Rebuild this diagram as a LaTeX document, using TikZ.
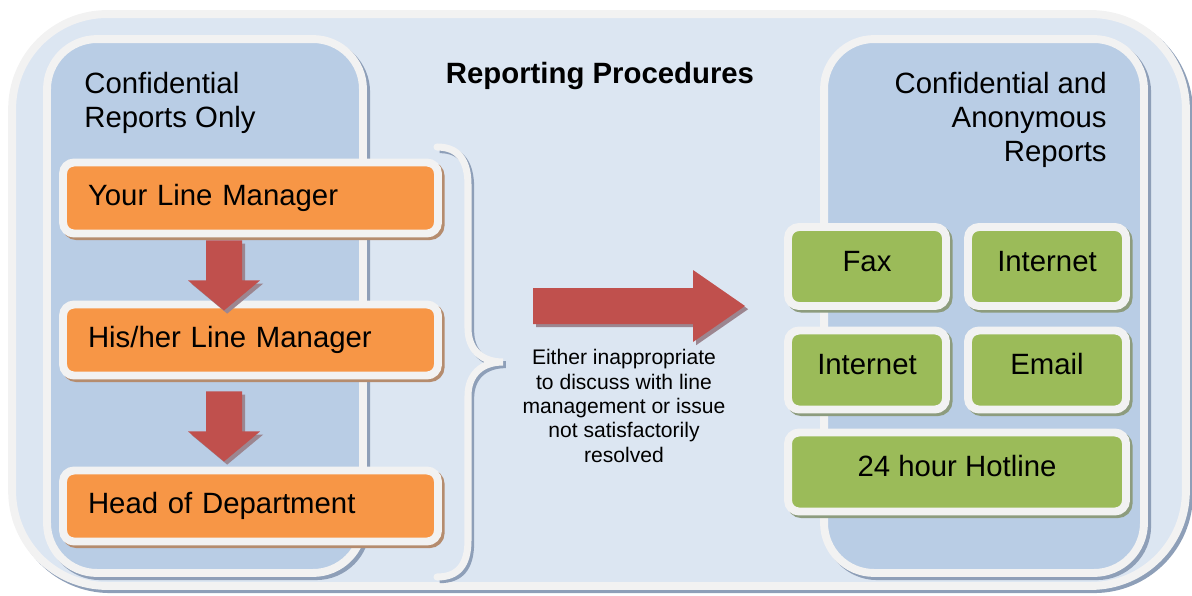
\documentclass[tikz,border=0pt]{standalone}
\usepackage{fontspec}
\setmainfont{Liberation Sans}
\usetikzlibrary{positioning, calc}

\definecolor{outerblue}{HTML}{DCE6F2}
\definecolor{panelblue}{HTML}{B9CDE5}
\definecolor{rimgray}{HTML}{F2F2F2}
\definecolor{panelshade}{HTML}{8E9FB8}
\definecolor{boxorange}{HTML}{F79646}
\definecolor{orangeshade}{HTML}{B58C6E}
\definecolor{boxgreen}{HTML}{9BBB59}
\definecolor{greenshade}{HTML}{8D9C7E}
\definecolor{arrowred}{HTML}{C0504D}
\definecolor{arrowshade}{HTML}{9C8690}

% block arrow pointing down, #1 = top middle of the shaft
\newcommand{\downblock}[1]{%
  \fill[blockarrow] (#1) ++(-18,0) -- ++(36,0) -- ++(0,40) -- ++(18,0) -- ++(-36,30) -- ++(-36,-30) -- ++(18,0) -- cycle;}

\begin{document}
\begin{tikzpicture}[x=0.02cm, y=-0.02cm,
    font=\fontsize{16.7}{19.4}\selectfont,
    panel/.style={draw=rimgray, line width=4.5pt, fill=panelblue, rounded corners=1cm, inner sep=0pt,
      preaction={draw=panelshade, fill=panelshade, line width=4.5pt, transform canvas={xshift=1.8pt, yshift=-1.8pt}}},
    orangebox/.style={draw=rimgray, line width=4.5pt, fill=boxorange, rounded corners=0.22cm,
      minimum width=7.5cm, minimum height=1.42cm, text width=6.5cm, align=left, inner xsep=0.5cm,
      text height=12pt, text depth=3.5pt,
      preaction={draw=orangeshade, fill=orangeshade, line width=4.5pt, transform canvas={xshift=1.5pt, yshift=-1.5pt}}},
    greenbox/.style={draw=rimgray, line width=4.5pt, fill=boxgreen, rounded corners=0.22cm,
      minimum width=3.16cm, minimum height=1.58cm, text height=12pt, text depth=6.8pt,
      preaction={draw=greenshade, fill=greenshade, line width=4.5pt, transform canvas={xshift=1.5pt, yshift=-1.5pt}}},
    blockarrow/.style={fill=arrowred,
      preaction={fill=arrowshade, transform canvas={xshift=1.8pt, yshift=-1.8pt}}},
    brace/.style={draw=rimgray, line width=4pt, line cap=round,
      preaction={draw=panelshade, line width=4pt, transform canvas={xshift=1.5pt, yshift=-1.5pt}}}
  ]
  \useasboundingbox (0,0) rectangle (1192,595);

  % outer frame and the two columns
  \node[panel, fill=outerblue, rounded corners=1.9cm, minimum width=23.48cm, minimum height=11.44cm] (frame) at (599,300) {};
  \node[panel, minimum width=6.32cm, minimum height=10.68cm] (conf_panel) at (205,306) {};
  \node[panel, minimum width=6.4cm, minimum height=10.68cm] (anon_panel) at (984,306) {};

  % headings
  \node[font=\bfseries\fontsize{16.7}{19.4}\selectfont] (title) at (600,76) {Reporting Procedures};
  \node[anchor=west, align=left, inner sep=0pt] (conf_head) at (84,103) {Confidential\\Reports Only};
  \node[anchor=east, align=right, inner sep=0pt] (anon_head) at (1107,120) {Confidential and\\Anonymous\\Reports};

  % line management chain
  \node[orangebox] (your_mgr) at (250.5,198) {Your Line Manager};
  \node[orangebox] (his_mgr) at (250.5,340) {His/her Line Manager};
  \node[orangebox] (head_dept) at (250.5,506) {Head of Department};

  \coordinate (step_one) at ([xshift=-0.53cm, yshift=-0.06cm]your_mgr.south);
  \coordinate (step_two) at ([xshift=-0.53cm, yshift=-0.24cm]his_mgr.south);
  \downblock{step_one}
  \downblock{step_two}

  % brace round the chain
  \draw[brace] (437,147) .. controls (458,147) and (468,160) .. (468,185) -- (468,328)
    .. controls (468,350) and (482,362) .. (503,362)
    .. controls (482,362) and (468,374) .. (468,396) -- (468,540)
    .. controls (468,565) and (458,577) .. (437,577);

  % escalation arrow
  \coordinate (escalate) at (533,305.5);
  \fill[blockarrow] (escalate) ++(0,-17.5) -- ++(160,0) -- ++(0,-18) -- ++(52,36) -- ++(-52,36) -- ++(0,-18) -- ++(-160,0) -- cycle;
  \node[align=center, font=\fontsize{12}{13.9}\selectfont] (note) at (624,406)
    {Either inappropriate\\to discuss with line\\management or issue\\not satisfactorily\\resolved};

  % reporting channels
  \node[greenbox] (fax) at (867,266.5) {Fax};
  \node[greenbox] (internet_a) at (1047,266.5) {Internet};
  \node[greenbox] (internet_b) at (867,370) {Internet};
  \node[greenbox] (email) at (1047,370) {Email};
  \node[greenbox, minimum width=6.76cm] (hotline) at (957,472) {24 hour Hotline};
\end{tikzpicture}
\end{document}
